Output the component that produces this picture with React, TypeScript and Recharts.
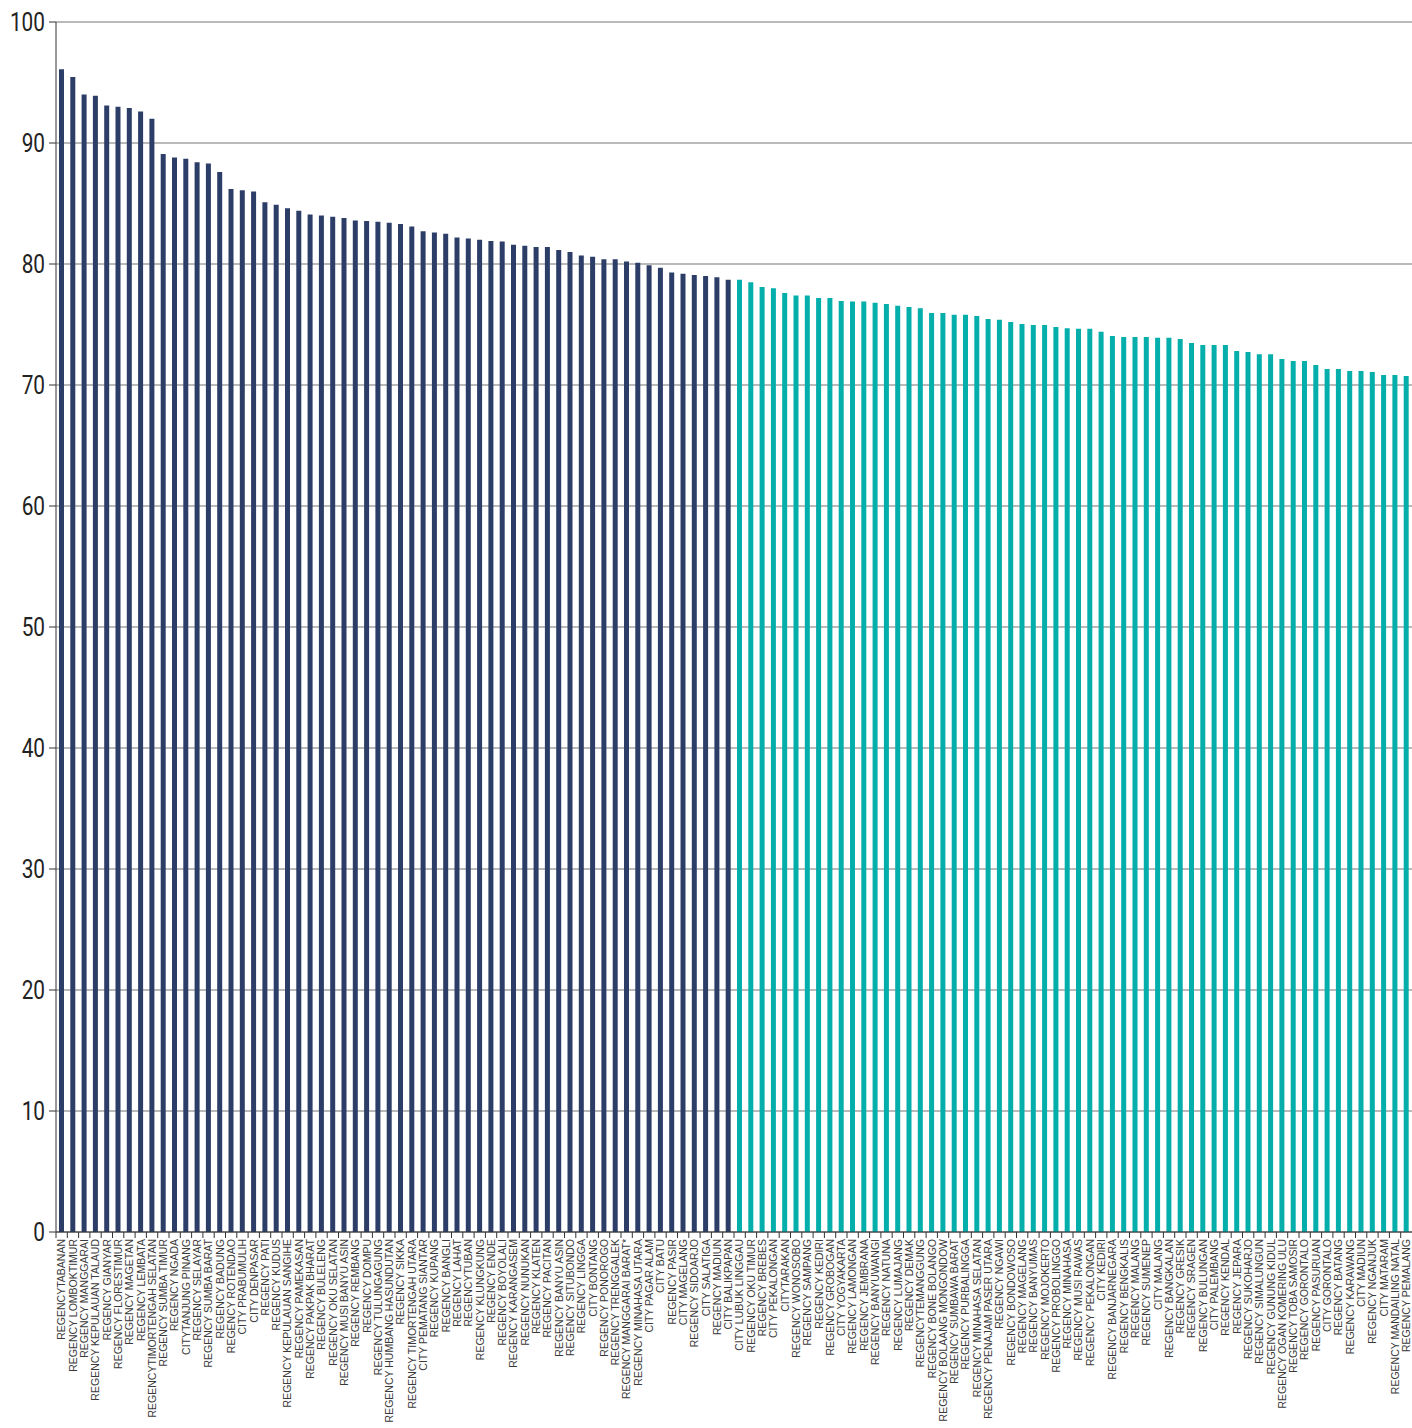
import React from "react";
import { BarChart, Bar, XAxis, YAxis, CartesianGrid, Cell } from "recharts";

const labels = [
  "REGENCYTABANAN", "REGENCY LOMBOKTIMUR", "REGENCY MANGGARAI", "REGENCY KEPULAUAN TALAUD",
  "REGENCY GIANYAR", "REGENCY FLORESTIMUR", "REGENCY MAGETAN", "REGENCY LEMBATA",
  "REGENCYTIMORTENGAH SELATAN", "REGENCY SUMBA TIMUR", "REGENCY NGADA", "CITYTANJUNG PINANG",
  "REGENCY SELAYAR", "REGENCY SUMBA BARAT", "REGENCY BADUNG", "REGENCY ROTENDAO",
  "CITY PRABUMULIH", "CITY DENPASAR", "REGENCY PATI", "REGENCY KUDUS",
  "REGENCY KEPULAUAN SANGIHE", "REGENCY PAMEKASAN", "REGENCY PAKPAK BHARAT", "REGENCY BULELENG",
  "REGENCY OKU SELATAN", "REGENCY MUSI BANYU ASIN", "REGENCY REMBANG", "REGENCY DOMPU",
  "REGENCY TULUNGAGUNG", "REGENCY HUMBANG HASUNDUTAN", "REGENCY SIKKA", "REGENCY TIMORTENGAH UTARA",
  "CITY PEMATANG SIANTAR", "REGENCY KUPANG", "REGENCY BANGLI", "REGENCY LAHAT",
  "REGENCYTUBAN", "REGENCY KLUNGKUNG", "REGENCY ENDE", "REGENCY BOYOLALI",
  "REGENCY KARANGASEM", "REGENCY NUNUKAN", "REGENCY KLATEN", "REGENCY PACITAN",
  "REGENCY BANYU ASIN", "REGENCY SITUBONDO", "REGENCY LINGGA", "CITY BONTANG",
  "REGENCY PONOROGO", "REGENCY TRENGGALEK", "REGENCY MANGGARAI BARAT*", "REGENCY MINAHASA UTARA",
  "CITY PAGAR ALAM", "CITY BATU", "REGENCY PASIR", "CITY MAGELANG",
  "REGENCY SIDOARJO", "CITY SALATIGA", "REGENCY MADIUN", "CITY BALIKPAPAN",
  "CITY LUBUK LINGGAU", "REGENCY OKU TIMUR", "REGENCY BREBES", "CITY PEKALONGAN",
  "CITYTARAKAN", "REGENCY WONOSOBO", "REGENCY SAMPANG", "REGENCY KEDIRI",
  "REGENCY GROBOGAN", "CITY YOGYAKARTA", "REGENCY LAMONGAN", "REGENCY JEMBRANA",
  "REGENCY BANYUWANGI", "REGENCY NATUNA", "REGENCY LUMAJANG", "REGENCY DEMAK",
  "REGENCYTEMANGGUNG", "REGENCY BONE BOLANGO", "REGENCY BOLAANG MONGONDOW", "REGENCY SUMBAWA BARAT",
  "REGENCY PURBALINGGA", "REGENCY MINAHASA SELATAN", "REGENCY PENAJAM PASER UTARA", "REGENCY NGAWI",
  "REGENCY BONDOWOSO", "REGENCY MAGELANG", "REGENCY BANYUMAS", "REGENCY MOJOKERTO",
  "REGENCY PROBOLINGGO", "REGENCY MINAHASA", "REGENCY MUSI RAWAS", "REGENCY PEKALONGAN",
  "CITY KEDIRI", "REGENCY BANJARNEGARA", "REGENCY BENGKALIS", "REGENCY MALANG",
  "REGENCY SUMENEP", "CITY MALANG", "REGENCY BANGKALAN", "REGENCY GRESIK",
  "REGENCY SRAGEN", "REGENCY BULUNGAN", "CITY PALEMBANG", "REGENCY KENDAL",
  "REGENCY JEPARA", "REGENCY SUKOHARJO", "REGENCY SIMALUNGUN", "REGENCY GUNUNG KIDUL",
  "REGENCY OGAN KOMERING ULU", "REGENCY TOBA SAMOSIR", "REGENCY GORONTALO", "REGENCY PASURUAN",
  "CITY GORONTALO", "REGENCY BATANG", "REGENCY KARAWANG", "CITY MADIUN",
  "REGENCY NGANJUK", "CITY MATARAM", "REGENCY MANDAILING NATAL", "REGENCY PEMALANG",
];

const values = [
  96.1, 95.45, 94.0, 93.9, 93.1, 93.0, 92.9, 92.6, 92.0, 89.1,
  88.8, 88.7, 88.4, 88.3, 87.6, 86.2, 86.1, 86.0, 85.1, 84.9,
  84.6, 84.4, 84.1, 84.0, 83.9, 83.8, 83.6, 83.55, 83.5, 83.4,
  83.3, 83.1, 82.7, 82.6, 82.5, 82.2, 82.1, 82.0, 81.9, 81.85,
  81.6, 81.5, 81.4, 81.4, 81.15, 81.0, 80.7, 80.6, 80.4, 80.4,
  80.2, 80.1, 79.9, 79.7, 79.3, 79.2, 79.1, 79.0, 78.9, 78.7,
  78.7, 78.5, 78.1, 78.0, 77.6, 77.4, 77.4, 77.2, 77.2, 76.95,
  76.9, 76.9, 76.8, 76.7, 76.55, 76.45, 76.35, 75.95, 75.95, 75.8,
  75.8, 75.7, 75.45, 75.4, 75.2, 75.05, 74.95, 74.95, 74.8, 74.7,
  74.65, 74.65, 74.4, 74.05, 73.97, 73.97, 73.97, 73.9, 73.9, 73.8,
  73.47, 73.3, 73.3, 73.3, 72.8, 72.73, 72.55, 72.55, 72.15, 71.98,
  71.98, 71.65, 71.32, 71.32, 71.16, 71.16, 71.07, 70.83, 70.83, 70.74,
];

const yTicks = [0, 10, 20, 30, 40, 50, 60, 70, 80, 90, 100];

const NAVY_COUNT = 60;
const NAVY = "#2c3e67";
const TEAL = "#03aeab";

const data = labels.map((name, i) => ({ name, value: values[i] }));

const W = 1412;
const H = 1428;
const Y_AXIS_W = 56;
const BAND = (W - Y_AXIS_W) / labels.length;

const XTick = (props: any) => {
  const { x, y, payload } = props;
  const left = x - BAND / 2;
  return (
    <g>
      <line x1={left} y1={y - 8} x2={left} y2={y - 2} stroke="#333" strokeWidth={1} />
      <text
        x={x}
        y={y - 1}
        dy="0.36em"
        transform={`rotate(-90, ${x}, ${y - 1})`}
        textAnchor="end"
        fontSize={10.5}
        fontFamily="'Liberation Sans', Arial, sans-serif"
        fill="#3a3a3a"
      >
        {payload.value}
      </text>
    </g>
  );
};

// condensed look for the y labels
const YTick = (props: any) => {
  const { x, y, payload } = props;
  return (
    <g transform={`translate(${x - 1}, ${y}) scale(0.8, 1)`}>
      <text
        x={0}
        y={0}
        dy="0.36em"
        textAnchor="end"
        fontSize={26}
        fontFamily="Roboto, 'Liberation Sans', sans-serif"
        fill="#222"
      >
        {payload.value}
      </text>
    </g>
  );
};

const App = () => {
  return (
    <div style={{ position: "absolute", left: 0, top: 0, width: W, height: H, background: "#fff" }}>
      <BarChart
        width={W}
        height={H}
        data={data}
        margin={{ top: 22, right: 0, bottom: 0, left: 0 }}
      >
        <CartesianGrid vertical={false} stroke="#a3a3a3" strokeWidth={1.5} />
        <XAxis
          dataKey="name"
          interval={0}
          height={196}
          tickLine={false}
          axisLine={{ stroke: "#333" }}
          tick={<XTick />}
        />
        <YAxis
          width={Y_AXIS_W}
          domain={[0, 100]}
          ticks={yTicks}
          tickSize={7}
          tickMargin={3}
          axisLine={{ stroke: "#333" }}
          tickLine={{ stroke: "#333" }}
          tick={<YTick />}
        />
        <Bar dataKey="value" barSize={5} isAnimationActive={false}>
          {data.map((d, i) => (
            <Cell key={d.name + i} fill={i < NAVY_COUNT ? NAVY : TEAL} />
          ))}
        </Bar>
      </BarChart>
    </div>
  );
};

export default App;
